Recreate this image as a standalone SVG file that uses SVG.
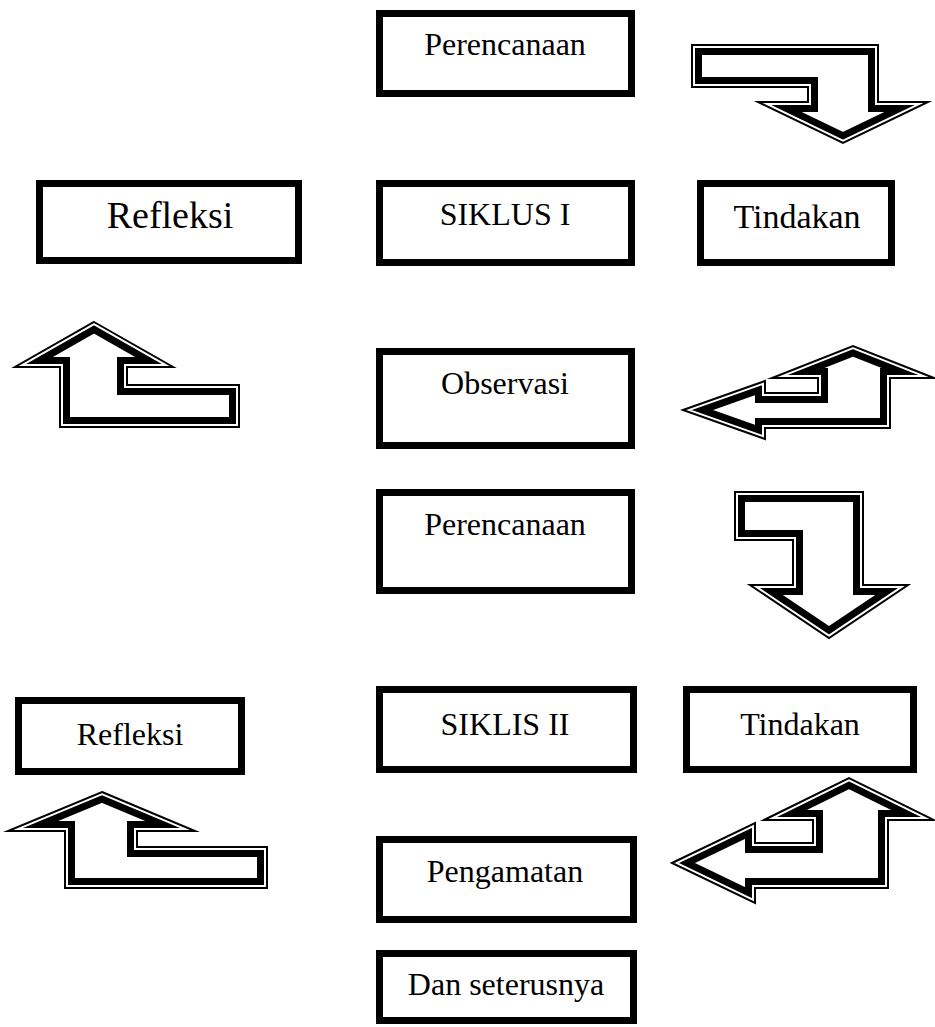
<svg xmlns="http://www.w3.org/2000/svg" xmlns:xlink="http://www.w3.org/1999/xlink" width="935" height="1027" viewBox="0 0 935 1027">
<style>
.box{fill:#fff;stroke:#000;stroke-width:7}
.lbl{font-family:"Liberation Serif","Times New Roman",serif;font-size:32px;fill:#000;text-anchor:middle}
.af{fill:#fff;stroke:none}
.ab{fill:none;stroke:#000;stroke-width:20;stroke-linejoin:miter;stroke-miterlimit:10}
.ag{fill:none;stroke:#fff;stroke-width:6;stroke-linejoin:miter;stroke-miterlimit:10}
.at{fill:none;stroke:#000;stroke-width:2;stroke-linejoin:miter;stroke-miterlimit:10}
</style>
<defs>
<path id="p1" d="M692,45 L878,45 L878,102 L928,102 L843,143 L758,102 L808,102 L808,87 L692,87 Z"/>
<path id="p2" d="M94,322 L173,367 L127,367 L127,385 L239,385 L239,427 L60,427 L60,367 L15,367 Z"/>
<path id="p3" d="M683,410 L765,381 L765,393 L818,393 L818,378 L772,378 L853,346 L934,378 L890,378 L890,428 L765,428 L765,439 Z"/>
<path id="p4" d="M735,492 L863,492 L863,585 L908,585 L829,638 L750,585 L793,585 L793,540 L735,540 Z"/>
<path id="p5" d="M102,792 L195,831 L137,831 L137,847 L267,847 L267,888 L65,888 L65,831 L8,831 Z"/>
<path id="p6" d="M672,863 L755,823 L755,843 L813,843 L813,820 L764,820 L849,778 L934,820 L888,820 L888,888 L755,888 L755,903 Z"/>
<clipPath id="c1"><use xlink:href="#p1"/></clipPath>
<clipPath id="c2"><use xlink:href="#p2"/></clipPath>
<clipPath id="c3"><use xlink:href="#p3"/></clipPath>
<clipPath id="c4"><use xlink:href="#p4"/></clipPath>
<clipPath id="c5"><use xlink:href="#p5"/></clipPath>
<clipPath id="c6"><use xlink:href="#p6"/></clipPath>
</defs>
<rect width="935" height="1027" fill="#fff"/>
<g id="connectors">
<g id="arrow1"><use xlink:href="#p1" class="af"/><g clip-path="url(#c1)"><use xlink:href="#p1" class="ab"/><use xlink:href="#p1" class="ag"/></g><use xlink:href="#p1" class="at"/></g>
<g id="arrow2"><use xlink:href="#p2" class="af"/><g clip-path="url(#c2)"><use xlink:href="#p2" class="ab"/><use xlink:href="#p2" class="ag"/></g><use xlink:href="#p2" class="at"/></g>
<g id="arrow3"><use xlink:href="#p3" class="af"/><g clip-path="url(#c3)"><use xlink:href="#p3" class="ab"/><use xlink:href="#p3" class="ag"/></g><use xlink:href="#p3" class="at"/></g>
<g id="arrow4"><use xlink:href="#p4" class="af"/><g clip-path="url(#c4)"><use xlink:href="#p4" class="ab"/><use xlink:href="#p4" class="ag"/></g><use xlink:href="#p4" class="at"/></g>
<g id="arrow5"><use xlink:href="#p5" class="af"/><g clip-path="url(#c5)"><use xlink:href="#p5" class="ab"/><use xlink:href="#p5" class="ag"/></g><use xlink:href="#p5" class="at"/></g>
<g id="arrow6"><use xlink:href="#p6" class="af"/><g clip-path="url(#c6)"><use xlink:href="#p6" class="ab"/><use xlink:href="#p6" class="ag"/></g><use xlink:href="#p6" class="at"/></g>
</g>
<g id="perencanaan1"><rect class="box" x="379.5" y="13.5" width="252" height="80"/><text class="lbl" x="505" y="55">Perencanaan</text></g>
<g id="refleksi1"><rect class="box" x="39.5" y="183.5" width="259" height="77"/><text class="lbl" x="170" y="228" style="font-size:38px">Refleksi</text></g>
<g id="siklus1"><rect class="box" x="379.5" y="183.5" width="252" height="79"/><text class="lbl" x="505" y="225">SIKLUS I</text></g>
<g id="tindakan1"><rect class="box" x="700.5" y="183.5" width="191" height="79"/><text class="lbl" x="797" y="228" style="font-size:34px">Tindakan</text></g>
<g id="observasi"><rect class="box" x="379.5" y="351.5" width="252" height="94"/><text class="lbl" x="505" y="394">Observasi</text></g>
<g id="perencanaan2"><rect class="box" x="379.5" y="492.5" width="252" height="98"/><text class="lbl" x="505" y="535">Perencanaan</text></g>
<g id="refleksi2"><rect class="box" x="18.5" y="700.5" width="223" height="71"/><text class="lbl" x="130" y="745">Refleksi</text></g>
<g id="siklis2"><rect class="box" x="379.5" y="689.5" width="254" height="80"/><text class="lbl" x="505" y="735">SIKLIS II</text></g>
<g id="tindakan2"><rect class="box" x="686.5" y="689.5" width="227" height="80"/><text class="lbl" x="800" y="735">Tindakan</text></g>
<g id="pengamatan"><rect class="box" x="379.5" y="839.5" width="254" height="80"/><text class="lbl" x="505" y="882">Pengamatan</text></g>
<g id="dan-seterusnya"><rect class="box" x="379.5" y="953.5" width="254" height="67"/><text class="lbl" x="506" y="995">Dan seterusnya</text></g>
</svg>
